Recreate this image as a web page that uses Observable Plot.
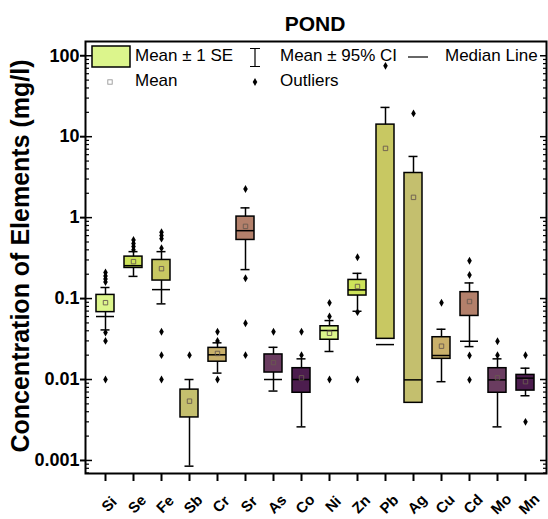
<!DOCTYPE html>
<html><head><meta charset="utf-8">
<script src="https://cdn.jsdelivr.net/npm/d3@7"></script>
<script src="https://cdn.jsdelivr.net/npm/@observablehq/plot@0.6"></script>
<style>
body{margin:0;background:#fff;}
#chart svg{font-family:"Liberation Sans",Arial,sans-serif;}
</style>
</head><body><div id="chart"></div>
<script>
const elements = ["Si","Se","Fe","Sb","Cr","Sr","As","Co","Ni","Zn","Pb","Ag","Cu","Cd","Mo","Mn"];
const boxLow  = [0.068, 0.239, 0.167, 0.0034, 0.0166, 0.53, 0.0122, 0.00686, 0.031, 0.109, 0.0318, 0.00515, 0.018, 0.061, 0.00686, 0.0073];
const boxHigh = [0.111, 0.33, 0.30, 0.0075, 0.0246, 1.03, 0.0204, 0.0138, 0.0455, 0.17, 14.1, 3.56, 0.0333, 0.12, 0.0138, 0.0114];
const means   = [0.089, 0.286, 0.234, 0.0054, 0.021, 0.78, 0.0162, 0.0105, 0.0373, 0.141, 7.17, 1.78, 0.0258, 0.092, 0.0105, 0.0094];
const medians = [0.06, 0.255, 0.129, null, 0.0202, 0.69, 0.01, 0.01, 0.0403, 0.128, 0.027, 0.0099, 0.0198, 0.0297, 0.0099, 0.0104];
const ciLow   = [0.041, 0.188, 0.086, 0.00085, 0.012, 0.228, 0.0072, 0.0026, 0.0222, 0.0697, null, null, 0.0094, 0.0255, 0.0026, 0.0063];
const ciHigh  = [0.137, 0.38, 0.38, 0.01, 0.0284, 1.32, 0.025, 0.018, 0.0535, 0.205, 23, 5.7, 0.0418, 0.156, 0.018, 0.0138];
const outliers = [
  [0.21, 0.19, 0.175, 0.16, 0.038, 0.03, 0.01],
  [0.53, 0.48, 0.44, 0.40],
  [0.66, 0.60, 0.55, 0.42, 0.039, 0.02, 0.01],
  [0.02],
  [0.039, 0.03, 0.01],
  [2.26, 0.178, 0.0496, 0.02],
  [0.039],
  [0.039, 0.02],
  [0.0885, 0.06, 0.01],
  [0.324, 0.068, 0.01],
  [75],
  [19.4],
  [0.089],
  [0.294, 0.196, 0.0198, 0.0099],
  [0.0297, 0.0199],
  [0.0199, 0.003]
];
const palette = ["#dcf58c","#cde35a","#c8c862","#c4bf6e","#c9b06b","#b3806b","#6a3c60","#4c1d4e"];
const yTickValues = [0.001, 0.01, 0.1, 1, 10, 100];
const yTickLabels = ["0.001","0.01","0.1","1","10","100"];
const legendLabels = ["Mean ± 1 SE","Mean ± 95% CI","Median Line","Mean","Outliers"];

const rows = elements.map((e,i)=>({el:e, lo:boxLow[i], hi:boxHigh[i], mean:means[i], median:medians[i], cl:ciLow[i], ch:ciHigh[i], color:palette[i%8]}));
const outRows = elements.flatMap((e,i)=>outliers[i].map(v=>({el:e, v})));
const yMin = 0.00069, yMax = 150;
const minor = [];
for (let k=-4;k<=2;k++) for (let m=2;m<=9;m++){const v=+(m*Math.pow(10,k)).toPrecision(3); if(v>=yMin && v<=yMax) minor.push(v);}

const plot = Plot.plot({
  width: 548, height: 519,
  marginTop: 41, marginBottom: 46, marginLeft: 85, marginRight: 2,
  style: {background:"white", overflow:"visible", fontFamily:"Liberation Sans, Arial, sans-serif"},
  x: {domain: elements, paddingInner: 0.34, paddingOuter: 0.17, axis: null},
  y: {type: "log", domain: [yMin, yMax], axis: null},
  color: {type: "identity"},
  marks: [
    Plot.ruleX(rows, {x:"el", y1:d=>d.cl ?? d.lo, y2:"ch", stroke:"black", strokeWidth:1.5}),
    Plot.barY(rows, {x:"el", y1:"lo", y2:"hi", fill:"color", stroke:"black", strokeWidth:1.5}),
    Plot.tickY(rows.filter(d=>d.median!=null), {x:"el", y:"median", stroke:"black", strokeWidth:1.5}),
    Plot.tickY(rows, {x:"el", y:"ch", insetLeft:4.5, insetRight:4.5, stroke:"black", strokeWidth:1.5}),
    Plot.tickY(rows.filter(d=>d.cl!=null), {x:"el", y:"cl", insetLeft:4.5, insetRight:4.5, stroke:"black", strokeWidth:1.5}),
    Plot.dot(rows, {x:"el", y:"mean", symbol:"square", r:2.5, stroke:"#6a5a50", strokeWidth:0.9, fill:"none"}),
    Plot.dot(outRows, {x:"el", y:"v", symbol:"diamond", r:2.4, fill:"black", stroke:"none"}),
    Plot.frame({stroke:"black", strokeWidth:2}),
    Plot.axisX({tickSize:8, strokeWidth:2, tickFormat:()=>"", label:null}),
    Plot.axisY({anchor:"left", ticks:yTickValues, tickSize:5, tickPadding:1, strokeWidth:2, tickFormat:d=>yTickLabels[yTickValues.indexOf(d)], fontSize:18, fontWeight:"bold", fill:"black", label:null}),
    Plot.axisY({anchor:"left", ticks:yTickValues, tickSize:-7, strokeWidth:1.5, tickFormat:()=>"", label:null}),
    Plot.axisY({anchor:"left", ticks:minor, tickSize:-4, strokeWidth:1.2, tickFormat:()=>"", label:null}),
    Plot.axisY({anchor:"right", ticks:yTickValues, tickSize:-7, strokeWidth:1.5, tickFormat:()=>"", label:null}),
    Plot.axisY({anchor:"right", ticks:minor, tickSize:-4, strokeWidth:1.2, tickFormat:()=>"", label:null})
  ]
});
document.getElementById("chart").appendChild(plot);

const svg = d3.select(plot);
const xs = plot.scale("x");
const bottomY = 519 - 46;
const xl = svg.append("g").attr("font-size", 15).attr("font-weight","bold").attr("text-anchor","middle");
elements.forEach(e => {
  const cx = xs.apply(e) + xs.bandwidth/2 + 4;
  const cy = bottomY + 31;
  xl.append("text").attr("transform", `translate(${cx},${cy}) rotate(-45)`)
    .attr("dy","0.35em").attr("fill","black").text(e);
});

svg.append("text").attr("x", 315).attr("y", 31).attr("text-anchor","middle")
  .attr("font-size", 21).attr("font-weight","bold").text("POND");
svg.append("text").attr("transform","translate(22,256) rotate(-90)").attr("text-anchor","middle")
  .attr("dominant-baseline","middle").attr("font-size", 25).attr("font-weight","bold")
  .text("Concentration of Elements (mg/l)");

const lg = svg.append("g").attr("font-size", 17).attr("text-anchor","start");
lg.append("rect").attr("x",92).attr("y",46).attr("width",38).attr("height",21).attr("fill",palette[0]).attr("stroke","black").attr("stroke-width",1.5);
lg.append("text").attr("x",135).attr("y",57).attr("dominant-baseline","middle").text(legendLabels[0]);
lg.append("path").attr("d","M250,48.5H260M255,48.5V66.5M250,66.5H260").attr("stroke","black").attr("stroke-width",1.2).attr("fill","none");
lg.append("text").attr("x",280).attr("y",57).attr("dominant-baseline","middle").text(legendLabels[1]);
lg.append("path").attr("d","M408,57H428").attr("stroke","black").attr("stroke-width",1.2);
lg.append("text").attr("x",445).attr("y",57).attr("dominant-baseline","middle").text(legendLabels[2]);
lg.append("rect").attr("x",107.8).attr("y",79.8).attr("width",4.4).attr("height",4.4).attr("fill","none").attr("stroke","#999").attr("stroke-width",0.9);
lg.append("text").attr("x",135).attr("y",82).attr("dominant-baseline","middle").text(legendLabels[3]);
lg.append("path").attr("d", d3.symbol(d3.symbolDiamond, Math.PI*2.4*2.4)()).attr("transform","translate(255,82)").attr("fill","black");
lg.append("text").attr("x",280).attr("y",82).attr("dominant-baseline","middle").text(legendLabels[4]);
</script>
</body></html>
